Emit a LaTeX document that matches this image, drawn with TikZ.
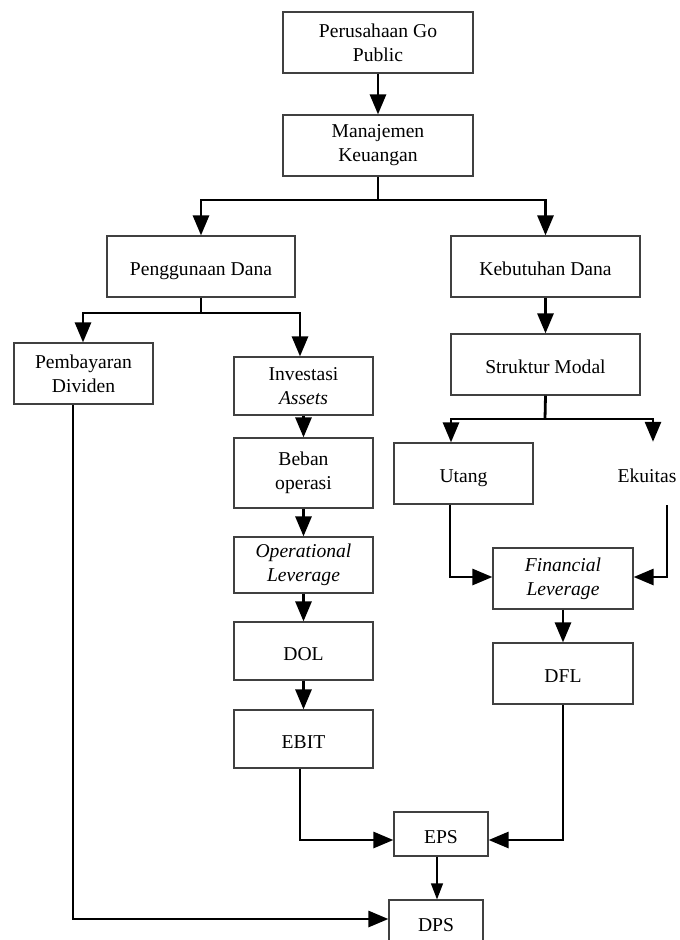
\documentclass[tikz,border=0pt]{standalone}
\usepackage{fontspec}
\setmainfont{Liberation Serif}
\usetikzlibrary{arrows.meta}

\begin{document}
\begin{tikzpicture}[x=1pt, y=-1pt,
	kotak/.style={draw=black!75, line width=1.2pt, align=center, inner sep=0pt,
		font=\fontsize{19.6}{24}\selectfont},
	satu/.style={text height=18pt, text depth=0pt},
	teks/.style={align=center, inner sep=0pt, font=\fontsize{19.6}{24}\selectfont},
	panah/.style={line width=2.8pt, -{Triangle[length=20pt,width=16pt]}},
	garis/.style={line width=2.8pt},
	panahtipis/.style={line width=1.2pt, -{Triangle[length=16pt,width=12pt]}}]

	\useasboundingbox (0,0) rectangle (680,940);
	\clip (0,0) rectangle (680,940);

	\node [kotak, minimum width=190, minimum height=61] (pub) at (378, 42.5) {Perusahaan Go\\Public};
	\node [kotak, minimum width=190, minimum height=61] (mk) at (378, 145.5) {Manajemen\\Keuangan};

	\node [kotak, satu, minimum width=188, minimum height=61] (guna) at (201, 266.5) {Penggunaan Dana};
	\node [kotak, satu, minimum width=189, minimum height=61] (butuh) at (545.5, 266.5) {Kebutuhan Dana};

	\node [kotak, minimum width=139, minimum height=61] (bayar) at (83.5, 373.5) {Pembayaran\\Dividen};
	\node [kotak, minimum width=139, minimum height=58] (inv) at (303.5, 386) {Investasi\\\textit{Assets}};
	\node [kotak, minimum width=139, minimum height=70] (beban) at (303.5, 473) {Beban\\operasi};
	\node [kotak, minimum width=139, minimum height=56] (opr) at (303.5, 565) {\textit{Operational}\\\textit{Leverage}};
	\node [kotak, satu, minimum width=139, minimum height=58] (dol) at (303.5, 651) {DOL};
	\node [kotak, satu, minimum width=139, minimum height=58] (ebit) at (303.5, 739) {EBIT};

	\node [kotak, satu, minimum width=189, minimum height=61] (struktur) at (545.5, 364.5) {Struktur Modal};
	\node [kotak, satu, minimum width=139, minimum height=61] (utang) at (463.5, 473.5) {Utang};
	\node [teks, satu, minimum height=63] (ekuitas) at (647, 473.5) {Ekuitas};
	\node [kotak, minimum width=140, minimum height=61] (fin) at (563, 578.5) {\textit{Financial}\\\textit{Leverage}};
	\node [kotak, satu, minimum width=140, minimum height=61] (dfl) at (563, 673.5) {DFL};

	\node [kotak, satu, minimum width=94, minimum height=44] (eps) at (441, 834) {EPS};
	\node [kotak, satu, minimum width=94, minimum height=44] (dps) at (436, 922) {DPS};

	\coordinate (cab1) at (378, 200);
	\coordinate (cab2) at (201, 313);
	\coordinate (cab3) at (545, 419);

	\draw [panah] (pub) -- (mk);
	\draw [garis] (mk.south) -- (cab1);
	\draw [panah] (cab1) -| (guna.north);
	\draw [panah] (cab1) -| (butuh.north);

	\draw [garis] (guna.south) -- (cab2);
	\draw [panah] (cab2) -| ([xshift=-0.5pt]bayar.north);
	\draw [panah] (cab2) -| ([xshift=-3.5pt]inv.north);

	\draw [panah] (inv.south) -- (beban.north);
	\draw [panah] (beban.south) -- (opr.north);
	\draw [panah] (opr.south) -- (dol.north);
	\draw [panah] (dol.south) -- (ebit.north);

	\draw [panah] (butuh.south) -- (struktur.north);
	\draw [garis] (struktur.south) -- (cab3);
	\draw [panah] (cab3) -| ([xshift=-12.5pt]utang.north);
	\draw [panah] (cab3) -| ([xshift=6pt]ekuitas.north);

	\draw [panah] ([xshift=-13.5pt]utang.south) |- ([yshift=1.5pt]fin.west);
	\draw [panah] ([xshift=20pt]ekuitas.south) |- ([yshift=1.5pt]fin.east);
	\draw [panah] (fin.south) -- (dfl.north);

	\draw [panah] ([xshift=-3.5pt]ebit.south) |- ([yshift=-6pt]eps.west);
	\draw [panah] (dfl.south) |- ([yshift=-6pt]eps.east);
	\draw [panahtipis] ([xshift=-4pt]eps.south) -- ([xshift=1pt]dps.north);
	\draw [panah] ([xshift=-10.5pt]bayar.south) |- ([yshift=3pt]dps.west);
\end{tikzpicture}
\end{document}
